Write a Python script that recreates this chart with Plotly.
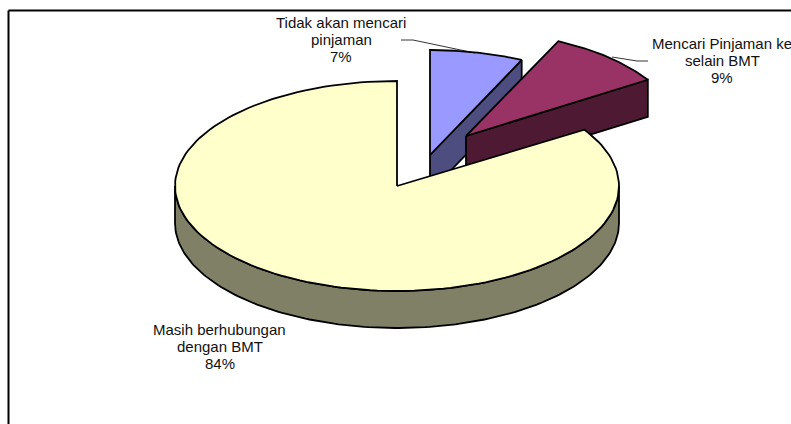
import numpy as np
import plotly.graph_objects as go

categories = ["Tidak akan mencari<br>pinjaman", "Mencari Pinjaman ke<br>selain BMT", "Masih berhubungan<br>dengan BMT"]
values = [7, 9, 84]
face_colors = ["#9999FF", "#993366", "#FFFFCC"]
side_colors = ["#4D4D80", "#4D1933", "#808066"]

# pie look, in page pixels
cx, cy = 397, 186
rx, ry = 222, 105
depth = 37
explode = [(33, -31), (69, -50), (0, 0)]
rx_scale = [0.97, 0.97, 1]
label_pos = [(341, 22), (722, 43), (219.5, 329)]
line_gap = 17.4
leaders = [([401, 413, 475], [40, 40, 53]), ([612, 637, 648], [57, 61, 61])]


def rim(start, end, dx, dy, dz=0, scale=1):
    t = np.radians(np.linspace(start, end, 160))
    return cx + dx + rx * scale * np.sin(t), cy + dy + dz - ry * np.cos(t)


def poly(x, y, color):
    return go.Scatter(x=x, y=y, mode="lines", fill="toself", fillcolor=color,
                      line=dict(color="black", width=1.8), hoverinfo="skip",
                      showlegend=False)


fig = go.Figure()
edges = np.concatenate([[0], np.cumsum(values)]) / sum(values) * 360

for i in range(len(values)):
    a, b = edges[i], edges[i + 1]
    dx, dy = explode[i]
    ax, ay = cx + dx, cy + dy
    s = rx_scale[i]

    # side walls first, then the top face over them
    if b < 90:
        ex, ey = rim(b, b, dx, dy, scale=s)
        fig.add_trace(poly([ax, ex[0], ex[0], ax, ax],
                           [ay, ey[0], ey[0] + depth, ay + depth, ay], side_colors[i]))
    else:
        ux, uy = rim(90, 270, dx, dy, scale=s)
        lx, ly = rim(270, 90, dx, dy, depth, scale=s)
        fig.add_trace(poly(np.concatenate([ux, lx, ux[:1]]),
                           np.concatenate([uy, ly, uy[:1]]), side_colors[i]))

    fx, fy = rim(a, b, dx, dy, scale=s)
    fig.add_trace(poly(np.concatenate([[ax], fx, [ax]]),
                       np.concatenate([[ay], fy, [ay]]), face_colors[i]))

for lx, ly in leaders:
    fig.add_trace(go.Scatter(x=lx, y=ly, mode="lines", line=dict(color="black", width=0.8),
                             hoverinfo="skip", showlegend=False))

# one annotation per line so the line spacing stays tight at this font size
for name, val, (tx, ty) in zip(categories, values, label_pos):
    for n, line in enumerate(name.split("<br>") + [f"{val}%"]):
        fig.add_annotation(x=tx, y=ty + n * line_gap, text=line, showarrow=False,
                           align="center", xanchor="center", yanchor="middle",
                           font=dict(family="Liberation Sans", size=15, color="#111111"))

# chart frame, only top and left fall inside the picture
fig.add_shape(type="line", x0=8.5, x1=791, y0=10.5, y1=10.5, line=dict(color="black", width=2))
fig.add_shape(type="line", x0=8.5, x1=8.5, y0=10.5, y1=424, line=dict(color="black", width=2))

fig.update_xaxes(range=[0, 791], visible=False)
fig.update_yaxes(range=[424, 0], visible=False)
fig.update_layout(width=791, height=424, margin=dict(l=0, r=0, t=0, b=0),
                  paper_bgcolor="white", plot_bgcolor="white", showlegend=False)
fig.write_html("out.html", config=dict(displayModeBar=False),
               post_script="document.body.style.margin='0';document.body.style.overflow='hidden';")
